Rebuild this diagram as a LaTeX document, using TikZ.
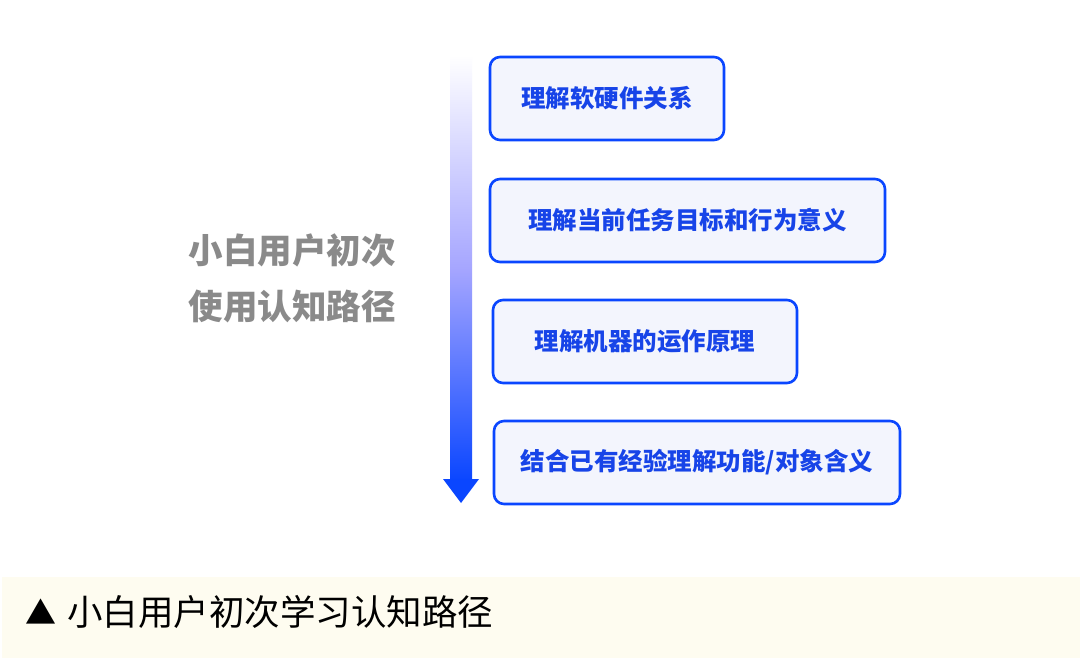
\documentclass[tikz,border=0pt]{standalone}
\usepackage{fontspec}
\newfontfamily\cjk{Noto Sans CJK SC}
\usetikzlibrary{positioning}
\definecolor{bblue}{HTML}{0A46FF}
\definecolor{tblue}{HTML}{1744E8}
\definecolor{bfill}{HTML}{F3F5FD}
\definecolor{cream}{HTML}{FEFCF0}
\definecolor{lgray}{HTML}{8A8A8A}
\tikzset{
  stepbox/.style={draw=bblue, line width=2.6pt, fill=bfill, rounded corners=10pt,
    minimum height=83pt, inner sep=0pt, font=\cjk\bfseries\fontsize{24.5}{28}\selectfont, text=tblue},
}
\begin{document}
\begin{tikzpicture}[x=1pt,y=-1pt]
\useasboundingbox[fill=white] (0,0) rectangle (1080,658);
% caption strip
\fill[cream] (2,577) rectangle (1080,658);
\node[anchor=west, inner sep=0pt, font=\cjk\fontsize{31}{36}\selectfont] (tri) at (25,612) {▲};
\node[anchor=west, inner sep=0pt, font=\cjk\fontsize{35.5}{40}\selectfont] (cap) at (67,612) {小白用户初次学习认知路径};
% arrow
\coordinate (atop) at (461,55);
\coordinate (abot) at (461,480);
\shade[top color=white, bottom color=bblue, middle color=blue!35!white] (450,55) rectangle (472,481);
\fill[bblue] (443,479) -- (479,479) -- (461,503) -- cycle;
% left label
\node[align=center, text=lgray, font=\cjk\bfseries\fontsize{34.5}{56}\selectfont] (lab) at (292,278) {小白用户初次\\使用认知路径};
% boxes
\node[stepbox, minimum width=234pt] (b1) at (607,98.5) {理解软硬件关系};
\node[stepbox, minimum width=395pt] (b2) at (687.5,220.5) {理解当前任务目标和行为意义};
\node[stepbox, minimum width=304pt] (b3) at (645,341.5) {理解机器的运作原理};
\node[stepbox, minimum width=406pt] (b4) at (697,462.5) {结合已有经验理解功能/对象含义};
\end{tikzpicture}
\end{document}
